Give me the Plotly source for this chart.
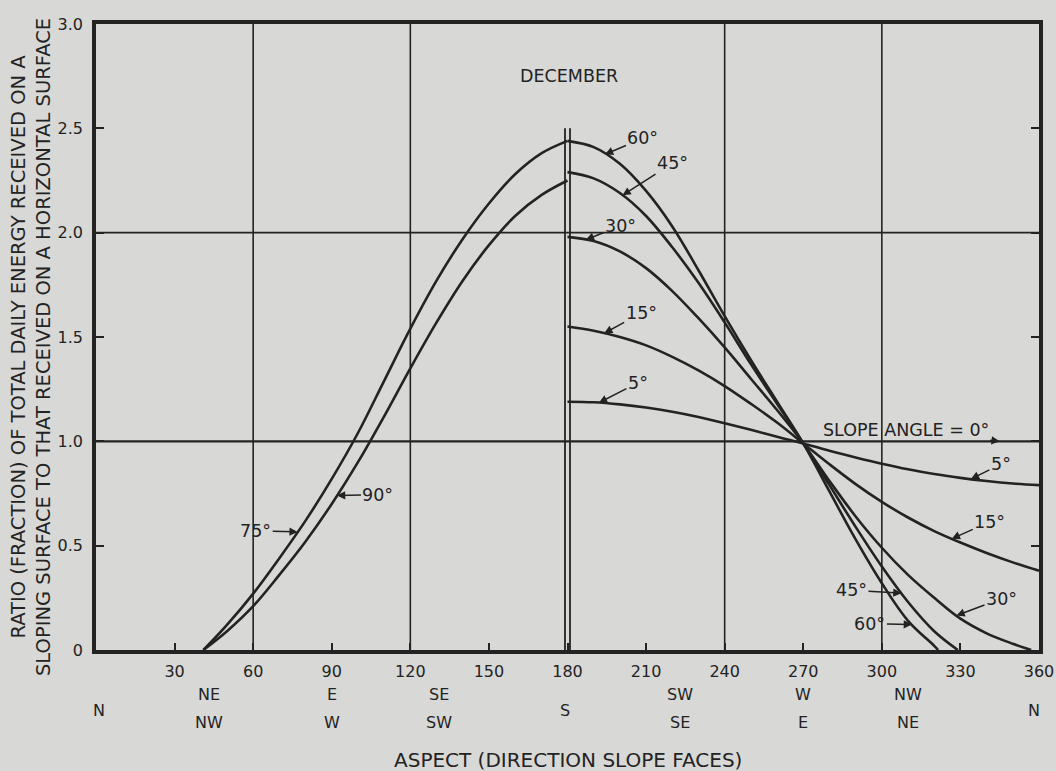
import numpy as np
import plotly.graph_objects as go

# Ratio of total daily energy on a sloping surface to that on a horizontal
# surface, December, by aspect (degrees from north) and slope angle.
aspect_steep = [41, 50, 60, 70, 80, 90, 100, 110, 120, 130, 140, 150, 160, 170, 180]
ratio_75 = [0.0, 0.12, 0.27, 0.44, 0.62, 0.82, 1.04, 1.29, 1.54, 1.77, 1.97, 2.14, 2.28, 2.38, 2.44]
ratio_90 = [0.0, 0.09, 0.21, 0.36, 0.52, 0.70, 0.90, 1.12, 1.35, 1.57, 1.77, 1.94, 2.08, 2.18, 2.25]

aspect_5 = [180, 190, 200, 210, 220, 230, 240, 250, 260, 270, 280, 290, 300, 310, 320, 330, 340, 350, 360]
ratio_5 = [1.19, 1.187, 1.177, 1.162, 1.142, 1.117, 1.087, 1.055, 1.022, 0.99, 0.955, 0.923, 0.893,
           0.866, 0.843, 0.825, 0.81, 0.798, 0.79]

aspect_15 = [180, 190, 200, 210, 220, 230, 240, 250, 260, 270, 280, 290, 300, 310, 320, 330, 340, 350, 360]
ratio_15 = [1.55, 1.53, 1.50, 1.46, 1.405, 1.34, 1.265, 1.18, 1.09, 0.99, 0.89, 0.795, 0.71, 0.635,
            0.57, 0.515, 0.465, 0.42, 0.38]

aspect_30 = [180, 190, 200, 210, 220, 230, 240, 250, 260, 270, 280, 290, 300, 310, 320, 330, 340, 350, 357]
ratio_30 = [1.98, 1.96, 1.91, 1.83, 1.72, 1.59, 1.45, 1.30, 1.15, 0.99, 0.81, 0.64, 0.49, 0.36,
            0.25, 0.15, 0.08, 0.03, 0.0]

aspect_45 = [180, 190, 200, 210, 220, 230, 240, 250, 260, 270, 280, 290, 300, 310, 320, 329]
ratio_45 = [2.29, 2.26, 2.19, 2.08, 1.93, 1.76, 1.57, 1.37, 1.18, 0.99, 0.79, 0.59, 0.40, 0.23, 0.09, 0.0]

aspect_60 = [180, 190, 200, 210, 220, 230, 240, 250, 260, 270, 280, 290, 300, 310, 320, 321.5]
ratio_60 = [2.44, 2.41, 2.33, 2.20, 2.03, 1.82, 1.60, 1.39, 1.19, 0.99, 0.76, 0.53, 0.32, 0.14, 0.02, 0.0]

aspect_0 = [0, 360]
ratio_0 = [1.0, 1.0]

x_ticks = [30, 60, 90, 120, 150, 180, 210, 240, 270, 300, 330, 360]
y_ticks = [0, 0.5, 1.0, 1.5, 2.0, 2.5, 3.0]
y_tick_text = ["0", "0.5", "1.0", "1.5", "2.0", "2.5", "3.0"]
grid_x = [60, 120, 240, 300]
grid_y = [2.0]

compass_pos = [43, 90, 131, 223, 270, 310]
compass_upper = ["NE", "E", "SE", "SW", "W", "NW"]
compass_lower = ["NW", "W", "SW", "SE", "E", "NE"]
compass_mid_pos = [1, 179, 358]
compass_mid = ["N", "S", "N"]

INK = "#232323"
PAPER = "#d8d8d6"
FONT = "DejaVu Sans"

series = [
    (aspect_steep, ratio_75), (aspect_steep, ratio_90),
    (aspect_60, ratio_60), (aspect_45, ratio_45), (aspect_30, ratio_30),
    (aspect_15, ratio_15), (aspect_5, ratio_5),
]

fig = go.Figure()
for xs, ys in series:
    fig.add_trace(go.Scatter(x=xs, y=ys, mode="lines",
                             line=dict(color=INK, width=2.6, shape="spline", smoothing=1.0),
                             hoverinfo="skip", showlegend=False))
fig.add_trace(go.Scatter(x=aspect_0, y=ratio_0, mode="lines",
                         line=dict(color=INK, width=2.2),
                         hoverinfo="skip", showlegend=False))

shapes = []
for gx in grid_x:
    shapes.append(dict(type="line", xref="x", yref="y", x0=gx, x1=gx, y0=0, y1=3,
                       line=dict(color=INK, width=1.6), layer="below"))
for gy in grid_y:
    shapes.append(dict(type="line", xref="x", yref="y", x0=0, x1=360, y0=gy, y1=gy,
                       line=dict(color=INK, width=1.6), layer="below"))
# double rule at due south
for off in (-2.5, 2.5):
    shapes.append(dict(type="line", xref="x", yref="y", xsizemode="pixel", xanchor=180,
                       x0=off, x1=off, y0=0, y1=2.5,
                       line=dict(color=INK, width=1.8), layer="below"))

annotations = []

def curve_label(text, xs, ys, tip_x, ax, ay):
    tip_y = float(np.interp(tip_x, xs, ys))
    annotations.append(dict(x=tip_x, y=tip_y, xref="x", yref="y", text=text,
                            showarrow=True, ax=ax, ay=ay, arrowhead=2, arrowsize=1.1,
                            arrowwidth=1.5, arrowcolor=INK, standoff=0,
                            font=dict(size=17.5, color=INK, family=FONT)))

curve_label("60°", aspect_60, ratio_60, 194.3, 38, -16)
curve_label("45°", aspect_45, ratio_45, 201, 50, -32)
curve_label("30°", aspect_30, ratio_30, 187, 35, -14)
curve_label("15°", aspect_15, ratio_15, 194, 37, -20)
curve_label("5°", aspect_5, ratio_5, 192, 39, -20)
curve_label("5°", aspect_5, ratio_5, 334, 30, -15)
curve_label("15°", aspect_15, ratio_15, 326.7, 38, -17)
curve_label("30°", aspect_30, ratio_30, 328.5, 45, -17)
curve_label("45°", aspect_45, ratio_45, 307.5, -50, -3)
curve_label("60°", aspect_60, ratio_60, 311.5, -42, -1)
curve_label("75°", aspect_steep, ratio_75, 77, -42, -1)
curve_label("90°", aspect_steep, ratio_90, 92, 41, -1)
curve_label("SLOPE ANGLE = 0°", aspect_0, ratio_0, 345, -94, -11)

annotations.append(dict(x=180.5, y=2.75, xref="x", yref="y", text="DECEMBER",
                        showarrow=False, font=dict(size=17.5, color=INK, family=FONT)))

for pos, up, lo in zip(compass_pos, compass_upper, compass_lower):
    annotations.append(dict(x=pos, y=0, xref="x", yref="paper", text=up, showarrow=False,
                            yanchor="middle", yshift=-44, font=dict(size=16, color=INK, family=FONT)))
    annotations.append(dict(x=pos, y=0, xref="x", yref="paper", text=lo, showarrow=False,
                            yanchor="middle", yshift=-72, font=dict(size=16, color=INK, family=FONT)))
for pos, t in zip(compass_mid_pos, compass_mid):
    annotations.append(dict(x=pos, y=0, xref="x", yref="paper", text=t, showarrow=False,
                            yanchor="middle", yshift=-60, font=dict(size=16, color=INK, family=FONT)))

annotations.append(dict(x=0.5, y=0, xref="paper", yref="paper",
                        text="ASPECT (DIRECTION SLOPE FACES)", showarrow=False,
                        yanchor="middle", yshift=-110, font=dict(size=20, color=INK, family=FONT)))
annotations.append(dict(x=0, y=0.484, xref="paper", yref="paper",
                        text="RATIO (FRACTION) OF TOTAL DAILY ENERGY RECEIVED ON A<br>"
                             "SLOPING SURFACE TO THAT RECEIVED ON A HORIZONTAL SURFACE",
                        showarrow=False, textangle=-90, xanchor="center", yanchor="middle",
                        xshift=-65, font=dict(size=19.5, color=INK, family=FONT)))

fig.update_layout(
    width=1056, height=771, autosize=False,
    margin=dict(l=96, r=17, t=24, b=121),
    paper_bgcolor=PAPER, plot_bgcolor=PAPER,
    font=dict(family=FONT, color=INK, size=16),
    shapes=shapes, annotations=annotations,
    showlegend=False,
)
fig.update_xaxes(range=[0, 360], tickvals=x_ticks, ticktext=[str(v) for v in x_ticks],
                 showgrid=False, zeroline=False, showline=True, linewidth=3.5,
                 linecolor=INK, mirror=True, ticks="inside", ticklen=7, tickwidth=2,
                 tickcolor=INK, ticklabelstandoff=4, tickfont=dict(size=16, color=INK),
                 automargin=False)
fig.update_yaxes(range=[0, 3], tickvals=y_ticks, ticktext=y_tick_text,
                 showgrid=False, zeroline=False, showline=True, linewidth=3.5,
                 linecolor=INK, mirror="ticks", ticks="inside", ticklen=8, tickwidth=2,
                 tickcolor=INK, ticklabelstandoff=6, tickfont=dict(size=16, color=INK),
                 automargin=False)

fig.write_html("out.html")
